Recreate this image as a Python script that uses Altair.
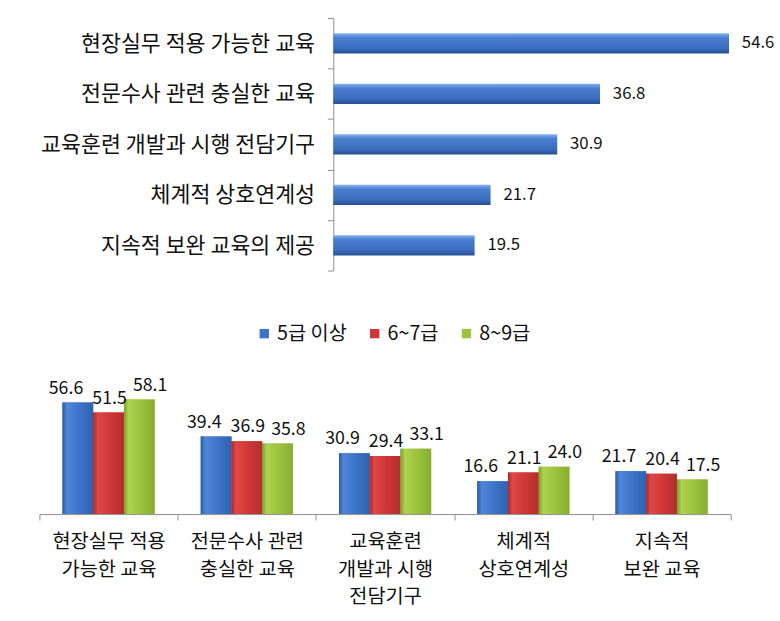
import altair as alt
import pandas as pd

FONT = "Noto Sans CJK KR"

# ---- data: top chart ----
top_items = [
    "현장실무 적용 가능한 교육",
    "전문수사 관련 충실한 교육",
    "교육훈련 개발과 시행 전담기구",
    "체계적 상호연계성",
    "지속적 보완 교육의 제공",
]
top_values = [54.6, 36.8, 30.9, 21.7, 19.5]

# ---- data: bottom chart ----
bottom_items = [
    "현장실무 적용\n가능한 교육",
    "전문수사 관련\n충실한 교육",
    "교육훈련\n개발과 시행\n전담기구",
    "체계적\n상호연계성",
    "지속적\n보완 교육",
]
groups = ["5급 이상", "6~7급", "8~9급"]
vals_5 = [56.6, 39.4, 30.9, 16.6, 21.7]
vals_67 = [51.5, 36.9, 29.4, 21.1, 20.4]
vals_89 = [58.1, 35.8, 33.1, 24.0, 17.5]
colors = ["#3d74c8", "#cf3737", "#9bc33c"]
# shading for the 3-D look: (edge dark, highlight, base, right dark)
shades = [
    ["#2a5aa6", "#4f86d6", "#3d74c8", "#2f62b0"],
    ["#a82a2a", "#e04848", "#cf3737", "#b22e2e"],
    ["#7a9e2a", "#aed24e", "#9bc33c", "#86ad32"],
]
label_shift = [-12, 1, 11]  # horizontal nudge of value labels per series

top_df = pd.DataFrame({"item": top_items, "value": top_values})
rows = []
for g, vals in zip(groups, [vals_5, vals_67, vals_89]):
    for it, v in zip(bottom_items, vals):
        rows.append({"item": it, "group": g, "value": v})
bottom_df = pd.DataFrame(rows)

# ---- top chart ----
top_grad = alt.Gradient(
    gradient="linear",
    stops=[
        alt.GradientStop(color="#86b2ee", offset=0),
        alt.GradientStop(color="#4a7fd0", offset=0.22),
        alt.GradientStop(color="#3a6cbe", offset=0.75),
        alt.GradientStop(color="#274f92", offset=1),
    ],
    x1=0, x2=0, y1=0, y2=1,
)

ty = alt.Y(
    "item:N",
    sort=top_items,
    scale=alt.Scale(paddingInner=0, paddingOuter=0),
    axis=alt.Axis(
        title=None, labelFont=FONT, labelFontSize=22, labelColor="#111",
        domainColor="#8c8c8c", tickColor="#8c8c8c", tickSize=6,
        tickBand="extent", labelPadding=13, labelLimit=400,
    ),
)
tx = alt.X("value:Q", scale=alt.Scale(domain=[0, 60]), axis=None)

top_bars = alt.Chart(top_df).mark_bar(
    color=top_grad, height=alt.RelativeBandSize(0.4)
).encode(x=tx, y=ty)
top_text = alt.Chart(top_df).mark_text(
    align="left", baseline="middle", dx=13, font=FONT, fontSize=17, color="#111"
).encode(x=tx, y=ty, text=alt.Text("value:Q", format=".1f"))
top_chart = alt.layer(top_bars, top_text).properties(width=441, height=256)

spacer = alt.Chart(pd.DataFrame({"a": [0]})).mark_text(text="").encode(
    x=alt.value(0), y=alt.value(0)
).properties(width=1, height=256)

top_row = alt.hconcat(spacer, top_chart, spacing=0)

# ---- bottom chart ----
bx = alt.X(
    "item:N",
    sort=bottom_items,
    scale=alt.Scale(paddingInner=0, paddingOuter=0),
    axis=alt.Axis(
        title=None, labelAngle=0, labelFont=FONT, labelFontSize=20,
        labelColor="#111", labelLineHeight=28,
        labelExpr="split(datum.label, '\\n')",
        domainColor="#8c8c8c", tickColor="#8c8c8c", tickSize=6,
        tickBand="extent", labelPadding=12,
    ),
)
bxo = alt.XOffset("group:N", sort=groups, scale=alt.Scale(paddingInner=0, paddingOuter=0.75))
by = alt.Y("value:Q", scale=alt.Scale(domain=[0, 70]), axis=None)
bcolor = alt.Color(
    "group:N", sort=groups,
    scale=alt.Scale(domain=groups, range=colors),
    legend=alt.Legend(
        orient="none", legendX=218, legendY=310, direction="horizontal",
        title=None, labelFont=FONT, labelFontSize=20, labelColor="#111",
        symbolType="square", symbolSize=90, symbolStrokeWidth=0,
        columnPadding=18, labelOffset=3,
    ),
)

bottom_bars = alt.Chart(bottom_df).mark_bar().encode(
    x=bx, xOffset=bxo, y=by, color=bcolor
)
shade_layers = []
text_layers = []
for g, sh, shift in zip(groups, shades, label_shift):
    grad = alt.Gradient(
        gradient="linear",
        stops=[
            alt.GradientStop(color=sh[0], offset=0),
            alt.GradientStop(color=sh[1], offset=0.15),
            alt.GradientStop(color=sh[2], offset=0.55),
            alt.GradientStop(color=sh[3], offset=1),
        ],
        x1=0, x2=1, y1=0, y2=0,
    )
    shade_layers.append(
        alt.Chart(bottom_df).transform_filter(alt.datum.group == g)
        .mark_bar(color=grad)
        .encode(x=bx, xOffset=bxo, y=by)
    )
    text_layers.append(
        alt.Chart(bottom_df).transform_filter(alt.datum.group == g)
        .mark_text(baseline="bottom", dy=-5, dx=shift, font=FONT, fontSize=18, color="#111")
        .encode(x=bx, xOffset=bxo, y=by, text=alt.Text("value:Q", format=".1f"))
    )
bottom_chart = alt.layer(bottom_bars, *shade_layers, *text_layers).properties(
    width=701, height=140
)

chart = alt.vconcat(top_row, bottom_chart, spacing=106).properties(
    padding={"left": 39, "top": 3, "right": 5, "bottom": 5},
    background="white",
).configure_view(stroke=None)

chart.save("out.html", embed_options={"renderer": "svg", "actions": False})
